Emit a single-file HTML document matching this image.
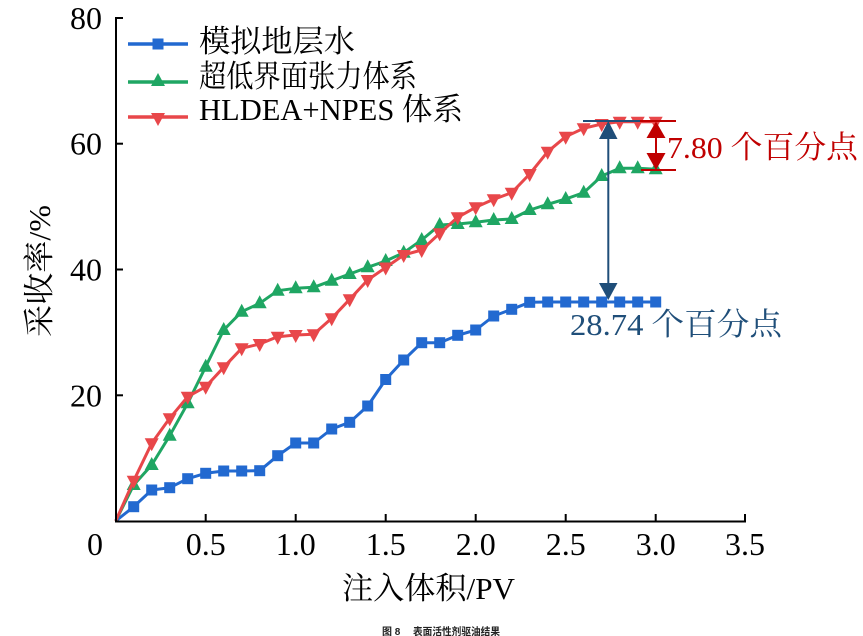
<!DOCTYPE html>
<html><head><meta charset="utf-8">
<style>
html,body{margin:0;padding:0;background:#fff;}
svg{display:block;}
.serif{font-family:"Liberation Serif","Noto Serif CJK SC",serif;}
</style></head>
<body>
<svg width="863" height="636" viewBox="0 0 863 636" xmlns="http://www.w3.org/2000/svg">
<defs>
<marker id="msq" markerWidth="12" markerHeight="12" refX="6" refY="6" markerUnits="userSpaceOnUse" overflow="visible">
<rect x="0.5" y="0.5" width="11" height="11" fill="#2269d0"/>
</marker>
<marker id="mtu" markerWidth="16" markerHeight="16" refX="8" refY="8" markerUnits="userSpaceOnUse" overflow="visible">
<polygon points="8,0 15,13 1,13" fill="#1fa663"/>
</marker>
<marker id="mtd" markerWidth="16" markerHeight="16" refX="8" refY="8" markerUnits="userSpaceOnUse" overflow="visible">
<polygon points="8,16 15,3 1,3" fill="#e8474a"/>
</marker>
</defs>
<!-- series -->
<polyline fill="none" stroke="#2269d0" stroke-width="3" stroke-linejoin="round" marker-mid="url(#msq)" marker-end="url(#msq)"
points="115.7,521 133.7,506.7 151.7,490 169.7,487.7 187.7,478.7 205.7,473.3 223.7,471 241.7,471 259.7,470.7 277.7,455.7 295.7,443 313.7,443 331.7,429 349.7,422.3 367.7,406 385.7,379.5 403.7,360 421.7,342.7 439.7,342.7 457.7,335.3 475.7,330 493.7,316 511.7,309.3 529.7,302.3 547.7,302 565.7,302 583.7,302 601.7,302 619.7,302 637.7,302 655.7,302"/>
<polyline fill="none" stroke="#1fa663" stroke-width="3" stroke-linejoin="round" marker-mid="url(#mtu)" marker-end="url(#mtu)"
points="115.7,521 133.7,485 151.7,465 169.7,435.7 187.7,403.3 205.7,366.7 223.7,330 241.7,311.7 259.7,303.3 277.7,290.7 295.7,288.3 313.7,287.3 331.7,280.7 349.7,274 367.7,267.3 385.7,261 403.7,252.7 421.7,240 439.7,225 457.7,224 475.7,222.3 493.7,220 511.7,219 529.7,210 547.7,204.3 565.7,199 583.7,192.7 601.7,176 619.7,168.3 637.7,168.3 655.7,169.3"/>
<polyline fill="none" stroke="#e8474a" stroke-width="3" stroke-linejoin="round" marker-mid="url(#mtd)" marker-end="url(#mtd)"
points="115.7,521 133.7,480.7 151.7,443.3 169.7,418.3 187.7,396.7 205.7,386.7 223.7,367.3 241.7,348.3 259.7,344 277.7,336.7 295.7,335 313.7,334.3 331.7,318.3 349.7,299.3 367.7,280 385.7,267.5 403.7,255 421.7,250 439.7,233.3 457.7,217.3 475.7,207.3 493.7,199.3 511.7,192.7 529.7,174 547.7,151.7 565.7,136.7 583.7,128.3 601.7,124 619.7,121.7 637.7,121.7 655.7,121.7"/>
<!-- axes -->
<g stroke="#000" stroke-width="2" fill="none">
<line x1="116" y1="17" x2="116" y2="522.5"/>
<line x1="115" y1="521.5" x2="746" y2="521.5"/>
<line x1="116" y1="18" x2="123" y2="18"/>
<line x1="116" y1="143.7" x2="123" y2="143.7"/>
<line x1="116" y1="269.5" x2="123" y2="269.5"/>
<line x1="116" y1="395.3" x2="123" y2="395.3"/>
<line x1="205.7" y1="521" x2="205.7" y2="514"/>
<line x1="295.7" y1="521" x2="295.7" y2="514"/>
<line x1="385.7" y1="521" x2="385.7" y2="514"/>
<line x1="475.7" y1="521" x2="475.7" y2="514"/>
<line x1="565.7" y1="521" x2="565.7" y2="514"/>
<line x1="655.7" y1="521" x2="655.7" y2="514"/>
<line x1="745" y1="521" x2="745" y2="514"/>
</g>
<g class="serif" font-size="32" fill="#000">
<text x="102" y="29" text-anchor="end">80</text>
<text x="102" y="154.7" text-anchor="end">60</text>
<text x="102" y="280.5" text-anchor="end">40</text>
<text x="102" y="406.3" text-anchor="end">20</text>
<text x="95" y="555" text-anchor="middle">0</text>
<text x="205.7" y="555" text-anchor="middle">0.5</text>
<text x="295.7" y="555" text-anchor="middle">1.0</text>
<text x="385.7" y="555" text-anchor="middle">1.5</text>
<text x="475.7" y="555" text-anchor="middle">2.0</text>
<text x="565.7" y="555" text-anchor="middle">2.5</text>
<text x="655.7" y="555" text-anchor="middle">3.0</text>
<text x="745" y="555" text-anchor="middle">3.5</text>
</g>
<g class="serif" font-size="31" fill="#000">
<text x="342" y="599" textLength="173" lengthAdjust="spacingAndGlyphs">注入体积/PV</text>
<text transform="translate(50,271) rotate(-90)" text-anchor="middle" textLength="132" lengthAdjust="spacingAndGlyphs">采收率/%</text>
</g>
<!-- legend -->
<g stroke-width="3.5">
<line x1="128" y1="44" x2="188" y2="44" stroke="#2269d0"/>
<line x1="128" y1="82" x2="188" y2="82" stroke="#1fa663"/>
<line x1="128" y1="117" x2="188" y2="117" stroke="#e8474a"/>
</g>
<rect x="152.5" y="38.5" width="11" height="11" fill="#2269d0"/>
<polygon points="158,73 165,86 151,86" fill="#1fa663"/>
<polygon points="158,126 165,113 151,113" fill="#e8474a"/>
<g class="serif" font-size="31" fill="#000">
<text x="199" y="52" textLength="156" lengthAdjust="spacingAndGlyphs">模拟地层水</text>
<text x="199" y="87" textLength="218" lengthAdjust="spacingAndGlyphs">超低界面张力体系</text>
<text x="199" y="120" textLength="264" lengthAdjust="spacingAndGlyphs">HLDEA+NPES 体系</text>
</g>
<!-- annotations -->
<g stroke-width="2">
<line x1="583" y1="121" x2="642" y2="121" stroke="#1f4e79"/>
<line x1="640" y1="121" x2="676" y2="121" stroke="#c00000"/>
<line x1="641" y1="170" x2="676" y2="170" stroke="#c00000"/>
<line x1="656" y1="134" x2="656" y2="158" stroke="#c00000"/>
<line x1="608.3" y1="134" x2="608.3" y2="288" stroke="#1f4e79"/>
</g>
<polygon points="656,121.5 665.5,138 646.5,138" fill="#c00000"/>
<polygon points="656,170 665.5,153 646.5,153" fill="#c00000"/>
<polygon points="608.3,121 617.5,139 599,139" fill="#1f4e79"/>
<polygon points="608.3,300 617.5,283 599,283" fill="#1f4e79"/>
<g class="serif" font-size="31">
<text x="667" y="158" fill="#c00000" textLength="191" lengthAdjust="spacingAndGlyphs">7.80 个百分点</text>
<text x="570" y="335" fill="#1f4e79" textLength="212" lengthAdjust="spacingAndGlyphs">28.74 个百分点</text>
</g>
<text x="382" y="635" font-size="10" font-weight="bold" fill="#222" font-family="'Liberation Sans','Noto Sans CJK SC',sans-serif">图 8</text>
<text x="413" y="635" font-size="10.5" font-weight="bold" fill="#222" font-family="'Liberation Sans','Noto Sans CJK SC',sans-serif" textLength="87" lengthAdjust="spacingAndGlyphs">表面活性剂驱油结果</text>
</svg>
</body></html>
